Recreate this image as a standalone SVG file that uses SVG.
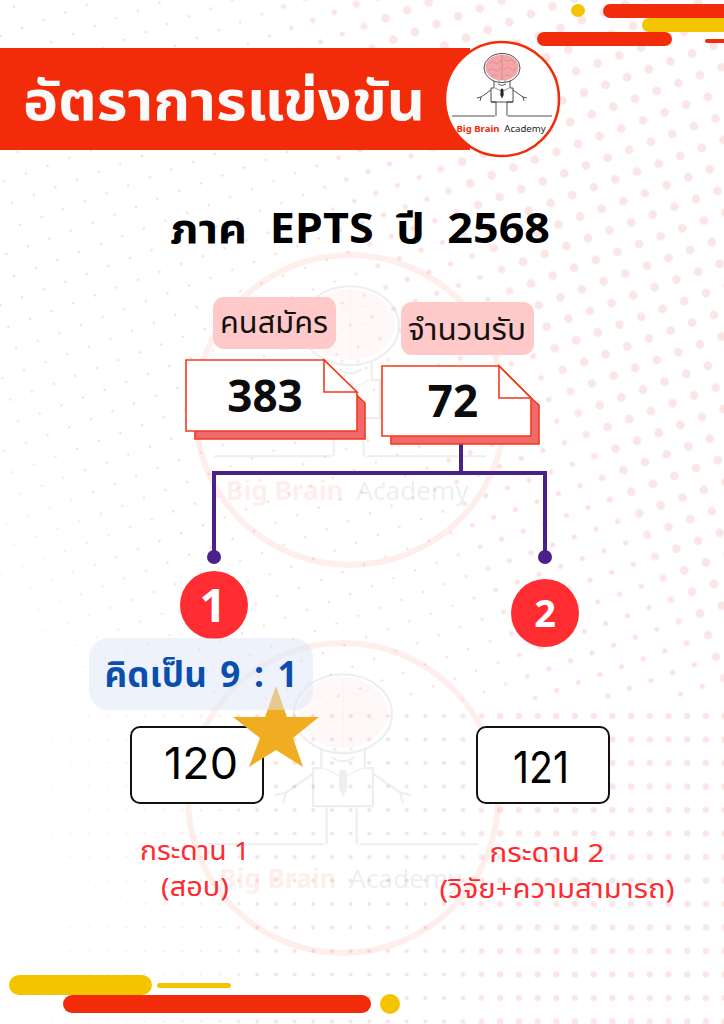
<svg xmlns="http://www.w3.org/2000/svg" xmlns:xlink="http://www.w3.org/1999/xlink" width="724" height="1024" viewBox="0 0 724 1024">
<style>
text{font-family:"Noto Sans Thai","Noto Sans","DejaVu Sans",sans-serif;text-anchor:middle}
.b{font-weight:700}
.red{fill:#f22c0a}
.yel{fill:#f5c400}
.lab{font-size:30px;fill:#111}
.num{font-size:44px;font-weight:700;fill:#0c0c0c}
.big{font-size:44px;fill:#000;font-family:Inter,"Noto Sans",sans-serif}
.sub{font-size:26px;fill:#ff2a30}
.doc{fill:#fff;stroke:#f5391c;stroke-width:1.6}
.sh{fill:#ef6a6a;stroke:#f5391c;stroke-width:1.6}
.box{fill:#fff;stroke:#111;stroke-width:2}
.badge{fill:#ff2d32}
.wire{fill:none;stroke:#4a2089;stroke-width:4}
</style>
<defs>
<pattern id="t1" width="23" height="23" patternUnits="userSpaceOnUse" patternTransform="rotate(-20)"><circle cx="11" cy="11" r="1.3" fill="#fbdcdc"/></pattern>
<pattern id="t2" width="23" height="23" patternUnits="userSpaceOnUse" patternTransform="rotate(-20)"><circle cx="11" cy="11" r="2.6" fill="#fbe3e3"/></pattern>
<pattern id="t3" width="23" height="23" patternUnits="userSpaceOnUse" patternTransform="rotate(-20)"><circle cx="11" cy="11" r="4.4" fill="#fbe6e6"/></pattern>
<pattern id="b1" width="18.7" height="23.5" patternUnits="userSpaceOnUse" patternTransform="translate(5 705)"><circle cx="9" cy="11" r="1.1" fill="#fbdcdc"/></pattern>
<pattern id="b2" width="18.7" height="23.5" patternUnits="userSpaceOnUse" patternTransform="translate(5 705)"><circle cx="9" cy="11" r="2" fill="#fbe0e0"/></pattern>
<pattern id="b3" width="18.7" height="23.5" patternUnits="userSpaceOnUse" patternTransform="translate(5 705)"><circle cx="9" cy="11" r="3.2" fill="#fbe6e6"/></pattern>
<linearGradient id="gt1" gradientUnits="userSpaceOnUse" x1="724" y1="100" x2="0" y2="620"><stop offset="0" stop-color="#fff"/><stop offset=".8" stop-color="#fff"/><stop offset="1" stop-color="#fff" stop-opacity=".2"/></linearGradient>
<linearGradient id="gt2" gradientUnits="userSpaceOnUse" x1="724" y1="60" x2="60" y2="300"><stop offset="0" stop-color="#fff"/><stop offset=".55" stop-color="#fff"/><stop offset=".6" stop-color="#fff" stop-opacity="0"/></linearGradient>
<linearGradient id="gt3" gradientUnits="userSpaceOnUse" x1="724" y1="60" x2="220" y2="330"><stop offset="0" stop-color="#fff"/><stop offset=".5" stop-color="#fff"/><stop offset=".55" stop-color="#fff" stop-opacity="0"/></linearGradient>
<linearGradient id="gb1" x1="0" x2="1" y1="0" y2="0"><stop offset="0" stop-color="#fff" stop-opacity=".15"/><stop offset=".35" stop-color="#fff"/></linearGradient>
<linearGradient id="gb2" x1="0" x2="1" y1="0" y2="0"><stop offset=".3" stop-color="#fff" stop-opacity="0"/><stop offset=".36" stop-color="#fff"/></linearGradient>
<linearGradient id="gb3" x1="0" x2="1" y1="0" y2="0"><stop offset=".62" stop-color="#fff" stop-opacity="0"/><stop offset=".68" stop-color="#fff"/></linearGradient>
<mask id="mt1"><rect width="724" height="700" fill="url(#gt1)"/></mask>
<mask id="mt2"><rect width="724" height="700" fill="url(#gt2)"/></mask>
<mask id="mt3"><rect width="724" height="700" fill="url(#gt3)"/></mask>
<mask id="mb1"><rect y="700" width="724" height="324" fill="url(#gb1)"/></mask>
<mask id="mb2"><rect y="700" width="724" height="324" fill="url(#gb2)"/></mask>
<mask id="mb3"><rect y="700" width="724" height="324" fill="url(#gb3)"/></mask>
<g id="mascot">
<ellipse cx="0" cy="-31" rx="18" ry="14.5" fill="#fff" stroke="#222" stroke-width=".8"/>
<ellipse cx="0" cy="-31.5" rx="16.5" ry="13" fill="#f2a6a8"/>
<path d="M-13-35q3-4 6-1t6-3M2-39q4 2 6 0t5 3M-14-29q4-3 7 0t5-2M2-30q4-3 7 0t5-1M-11-23q3-2 6 0M3-23q3-2 6 0" fill="none" stroke="#d97a80" stroke-width=".6"/>
<path d="M0-44V-19" stroke="#c8646c" stroke-width=".5"/>
<path d="M-8-18V-11H-11V3H-6V17M8-18V-11H11V3H5V17M-11-9L-21-2M11-9L21-2M-50 17H-7M6 17H50M-11 3H11" fill="none" stroke="#222" stroke-width=".8"/>
<path d="M-4-15q4 3 8 0" fill="none" stroke="#222" stroke-width=".7"/>
<circle cx="-3" cy="-18" r=".6" fill="#222"/><circle cx="3" cy="-18" r=".6" fill="#222"/>
<path d="M-1-10H1L1.4-4 0-1-1.4-4ZM-7-11L-1-8M7-11L1-8" fill="#222" stroke="#222" stroke-width=".5"/>
<path d="M-21-2l-4 1M-21-2l-1 4M21-2l4 1M21-2l1 4" fill="none" stroke="#222" stroke-width=".8"/>
<text x="-24" y="33" font-size="9.6" class="b" fill="#f22c0a" style="font-family:'Noto Sans',sans-serif">Big Brain</text>
<text x="23" y="33" font-size="9.6" fill="#222" style="font-family:'Noto Sans',sans-serif">Academy</text>
</g>
</defs>

<g id="background">
<rect width="724" height="1024" fill="#fff"/>
<rect width="724" height="700" fill="url(#t1)" mask="url(#mt1)"/>
<rect width="724" height="700" fill="url(#t2)" mask="url(#mt2)"/>
<rect width="724" height="700" fill="url(#t3)" mask="url(#mt3)"/>
<rect y="700" width="724" height="324" fill="url(#b1)" mask="url(#mb1)"/>
<rect y="700" width="724" height="324" fill="url(#b2)" mask="url(#mb2)"/>
<rect y="700" width="724" height="324" fill="url(#b3)" mask="url(#mb3)"/>
<g opacity=".07">
<circle cx="350" cy="410" r="155" fill="none" stroke="#f22c0a" stroke-width="6"/>
<use xlink:href="#mascot" href="#mascot" transform="translate(350 410) scale(2.72)"/>
</g>
<g opacity=".07">
<circle cx="343" cy="798" r="155" fill="none" stroke="#f22c0a" stroke-width="6"/>
<use xlink:href="#mascot" href="#mascot" transform="translate(343 798) scale(2.72)"/>
</g>
</g>

<g id="decor-top">
<ellipse class="yel" cx="578" cy="10.500" rx="7" ry="6.500"/>
<rect class="red" x="603" y="4" width="140" height="14" rx="7"/>
<rect class="yel" x="642" y="18" width="100" height="14" rx="7"/>
<rect class="red" x="537" y="32" width="135" height="14" rx="7"/>
<rect class="red" x="705" y="39" width="30" height="4" rx="2"/>
</g>

<g id="title-banner">
<rect class="red" y="48" width="470" height="102"/>
<text x="224" y="120" font-size="55" class="b" fill="#fafafa" textLength="402" lengthAdjust="spacingAndGlyphs">อัตราการแข่งขัน</text>
</g>

<g id="logo">
<circle cx="502" cy="99" r="57" fill="#fff" stroke="#f22c0a" stroke-width="2.500"/>
<use xlink:href="#mascot" href="#mascot" transform="translate(502 99)"/>
</g>

<g id="heading">
<text x="360" y="243" font-size="41" class="b" fill="#000" word-spacing="10" textLength="380" lengthAdjust="spacingAndGlyphs">ภาค EPTS ปี 2568</text>
</g>

<g id="connectors">
<path class="wire" d="M461 444V473M214 557V473H545V557"/>
<circle cx="214" cy="557" r="7" fill="#4a2089"/>
<circle cx="545" cy="557" r="7" fill="#4a2089"/>
</g>

<g id="applicants-label">
<rect x="213" y="297" width="123" height="52" rx="11" fill="#ffc9c9"/>
<text class="lab" x="274" y="333" textLength="108" lengthAdjust="spacingAndGlyphs">คนสมัคร</text>
</g>
<g id="seats-label">
<rect x="401" y="302" width="133" height="53" rx="11" fill="#ffc9c9"/>
<text class="lab" x="467" y="340" textLength="118" lengthAdjust="spacingAndGlyphs">จำนวนรับ</text>
</g>

<g id="applicants">
<path class="sh" d="M195 369H330L365 403V439H195Z"/>
<path class="doc" d="M186 360H324L357 393V431H186Z"/>
<path class="doc" d="M324 360V392H357Z"/>
<text class="num" x="265" y="412">383</text>
</g>
<g id="seats">
<path class="sh" d="M391 375H505L539 405V444H391Z"/>
<path class="doc" d="M382 366H499L531 398V436H382Z"/>
<path class="doc" d="M499 366V398H531Z"/>
<text class="num" x="453" y="417">72</text>
</g>

<g id="badge-1">
<circle class="badge" cx="214" cy="605" r="34"/>
<text x="213" y="622" font-size="47" class="b" fill="#fff">1</text>
</g>
<g id="badge-2">
<circle class="badge" cx="545" cy="613" r="34"/>
<text x="545" y="627" font-size="38" class="b" fill="#fff">2</text>
</g>

<g id="level-1">
<rect class="box" x="131" y="727" width="132" height="76" rx="9"/>
<text class="big" x="201" y="779" textLength="74" lengthAdjust="spacingAndGlyphs">120</text>
</g>
<g id="star">
<polygon fill="#f0ad22" points="276,686 287,717 319,717 293,738 303,767 276,750 249,767 260,738 233,717 265,717"/>
</g>
<g id="ratio">
<rect x="89" y="638" width="224" height="72" rx="20" fill="#dde5f7" opacity=".5"/>
<text x="201" y="687" font-size="35" class="b" fill="#0a4fae" word-spacing="4" textLength="193" lengthAdjust="spacing">คิดเป็น 9 : 1</text>
</g>
<g id="level-2">
<rect class="box" x="477" y="727" width="132" height="76" rx="9"/>
<text class="big" x="541" y="783" textLength="56" lengthAdjust="spacingAndGlyphs">121</text>
</g>

<g id="level-1-label">
<text class="sub" x="195" y="860" textLength="110" lengthAdjust="spacingAndGlyphs">กระดาน 1</text>
<text class="sub" x="195" y="896" textLength="68" lengthAdjust="spacingAndGlyphs">(สอบ)</text>
</g>
<g id="level-2-label">
<text class="sub" x="547" y="862" textLength="115" lengthAdjust="spacingAndGlyphs">กระดาน 2</text>
<text class="sub" x="557" y="898" textLength="235" lengthAdjust="spacingAndGlyphs">(วิจัย+ความสามารถ)</text>
</g>

<g id="decor-bottom">
<rect class="yel" x="9" y="975" width="143" height="20" rx="10"/>
<rect class="yel" x="157" y="983" width="74" height="5" rx="2.500"/>
<rect class="red" x="63" y="995" width="308" height="18" rx="9"/>
<ellipse class="yel" cx="390" cy="1004" rx="10" ry="10"/>
</g>
</svg>
